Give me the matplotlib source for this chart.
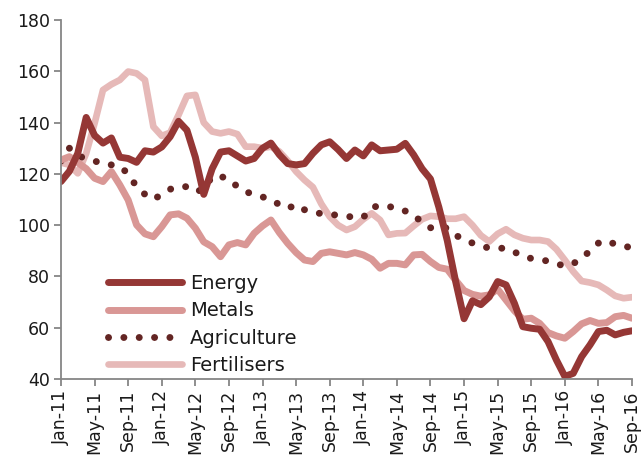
import numpy as np
import matplotlib
matplotlib.use('Agg')
import matplotlib.pyplot as plt

# Monthly commodity price indices, Jan-11 .. Sep-16
energy = [117, 121, 128, 142, 135, 132, 134, 126.5, 126, 124.5, 129, 128.5,
          130.5, 134.5, 140.5, 137, 126.5, 112, 122, 128.5, 129, 127, 125, 126,
          130, 132, 127.5, 124, 123.5, 124, 128, 131.3, 132.5, 129.5, 126, 129.3,
          127, 131.3, 129, 129.3, 129.6, 131.9, 127.4, 122, 118, 107, 94, 78,
          63.5, 70.5, 69, 72, 78, 76.7, 69.5, 60.4, 59.8, 59.4, 54.6, 47.4,
          41, 42.2, 48.7, 53.3, 58.5, 59, 57.2, 58.2, 58.8]
metals = [125.4, 126.7, 124.4, 122, 118.3, 117, 120.9, 115.7, 109.8, 100.1, 96.6, 95.5,
          99.4, 104, 104.4, 102.7, 98.8, 93.5, 91.6, 87.7, 92.3, 93.2, 92.3, 96.8,
          99.7, 102, 97.1, 92.9, 89.3, 86.4, 85.8, 89, 89.6, 89, 88.4, 89.3,
          88.4, 86.7, 83.2, 85.1, 85.1, 84.5, 88.4, 88.6, 85.8, 83.5, 82.8, 78.5,
          74.5, 73, 72.3, 72.8, 75, 70.8, 66.6, 63.3, 63.7, 61.7, 58.1, 56.8,
          55.9, 58.5, 61.5, 62.8, 61.7, 62, 64.3, 64.8, 63.7]
agriculture = [125, 130, 127, 126, 125, 124, 123.5, 123, 120, 115, 112, 110,
               112, 114, 115, 115, 113, 114, 119, 119, 118, 115, 113, 112,
               111, 110, 108, 106.5, 108, 106, 105, 104.5, 104, 104, 103.5, 103,
               103, 107, 107.5, 107.5, 106, 105.5, 104, 101, 99, 98.5, 99, 96,
               94.5, 93, 92, 91, 91, 91, 89.5, 88, 87, 86.5, 86, 85,
               84, 85, 87, 90, 93, 94, 92.5, 92, 91]
fertilisers = [124.4, 123.5, 120.2, 128, 139.7, 152.7, 154.9, 156.6, 159.9, 159.2, 156.6, 138.4,
               134.8, 136.1, 143, 150.4, 150.8, 140, 136.5, 135.8, 136.5, 135.5, 130.6, 130.6,
               130, 130.6, 128.7, 125.1, 120.9, 117.6, 114.8, 108.3, 103.3, 100, 98.1, 99.4,
               102.3, 104.6, 102, 96.2, 96.8, 96.9, 99.7, 102.3, 103.6, 103.3, 102.5, 102.5,
               103.3, 100, 96, 93.6, 96.6, 98.4, 96.2, 94.9, 94.2, 94.2, 93.6, 90.6,
               86.4, 81.9, 78.2, 77.6, 76.7, 74.7, 72.4, 71.5, 71.9]
tick_labels = ['Jan-11', 'May-11', 'Sep-11', 'Jan-12', 'May-12', 'Sep-12', 'Jan-13', 'May-13',
               'Sep-13', 'Jan-14', 'May-14', 'Sep-14', 'Jan-15', 'May-15', 'Sep-15', 'Jan-16',
               'May-16', 'Sep-16']

x = np.arange(len(energy))

plt.rcParams['font.family'] = ['DejaVu Sans']
fig = plt.figure(figsize=(6.41, 4.66), dpi=100)
ax = fig.add_axes([61 / 641, 1 - 379 / 466, (632 - 61) / 641, (379 - 20) / 466])

l_fert, = ax.plot(x, fertilisers, color='#E6B9B8', lw=4.8, solid_capstyle='round', label='Fertilisers')
l_agri, = ax.plot(x, agriculture, color='#632523', lw=5, linestyle=(0, (0.01, 2.2)),
                  dash_capstyle='round', label='Agriculture')
l_met, = ax.plot(x, metals, color='#D99795', lw=5, solid_capstyle='round', label='Metals')
l_en, = ax.plot(x, energy, color='#953735', lw=5, solid_capstyle='round', label='Energy')

ax.set_xlim(0, 68)
ax.set_ylim(40, 180)
ax.set_yticks(range(40, 181, 20))
ax.set_xticks(range(0, 69, 4))
ax.set_xticklabels(tick_labels, rotation=90)

for s in ['top', 'right']:
    ax.spines[s].set_visible(False)
for s in ['left', 'bottom']:
    ax.spines[s].set_color('#868686')
    ax.spines[s].set_linewidth(1.3)
ax.tick_params(axis='both', colors='#868686', labelcolor='#1a1a1a', labelsize=12.5,
               length=5, width=1.3, direction='out')
ax.tick_params(axis='y', pad=3)
ax.tick_params(axis='x', pad=3)

leg = ax.legend([l_en, l_met, l_agri, l_fert], ['Energy', 'Metals', 'Agriculture', 'Fertilisers'],
                loc='upper left', bbox_to_anchor=(108 / 641, 1 - 274 / 466),
                bbox_transform=fig.transFigure, frameon=False, fontsize=14,
                handlelength=3.8, handletextpad=0.4, labelspacing=0.43,
                borderpad=0, borderaxespad=0)
for t in leg.get_texts():
    t.set_color('#1a1a1a')

fig.savefig('out.png', dpi=100)
